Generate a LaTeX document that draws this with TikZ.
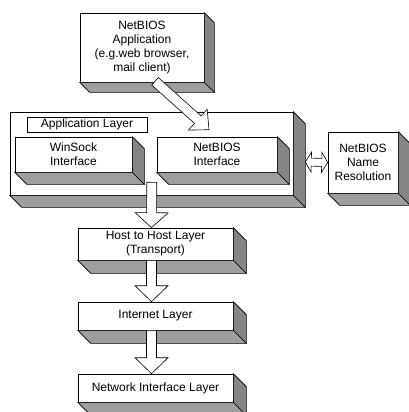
\documentclass[tikz,border=0pt]{standalone}
\usepackage{fontspec}
\setmainfont{Liberation Sans}
\usepackage{xcolor}
\usepackage{tikz}
\usetikzlibrary{calc}

\definecolor{slabbottom}{gray}{0.62}
\definecolor{slabside}{gray}{0.52}

\tikzset{
  slab/.style={draw=black, fill=white, line width=0.6pt, align=center, inner sep=1pt, minimum width=155pt},
  hollow/.style={draw=black, fill=white, line width=0.6pt, line join=miter},
}

% 3d depth of a slab: #1 node, #2 depth
\newcommand{\extrude}[2]{%
  \filldraw[fill=slabbottom, line width=0.6pt] (#1.south west) -- (#1.south east) -- ++(#2,#2) -- ($(#1.south west)+(#2,#2)$) -- cycle;
  \filldraw[fill=slabside, line width=0.6pt] (#1.north east) -- ++(#2,#2) -- ($(#1.south east)+(#2,#2)$) -- (#1.south east) -- cycle;
}

% hollow arrow: shaft half width, head half width, head length, from, to
\newcommand{\blockarrow}[5]{%
  \path (#4) coordinate (ba-s) (#5) coordinate (ba-e);
  \path ($(ba-e)!#3!(ba-s)$) coordinate (ba-h);
  \draw[hollow] ($(ba-s)!#1!90:(ba-e)$) -- ($(ba-h)!#1!-90:(ba-s)$) -- ($(ba-h)!#2!-90:(ba-s)$)
    -- (ba-e) -- ($(ba-h)!#2!90:(ba-s)$) -- ($(ba-h)!#1!90:(ba-s)$) -- ($(ba-s)!#1!-90:(ba-e)$) -- cycle;
}

% hollow arrow with two heads
\newcommand{\dblockarrow}[5]{%
  \path (#4) coordinate (ba-s) (#5) coordinate (ba-e);
  \path ($(ba-s)!#3!(ba-e)$) coordinate (ba-p) ($(ba-e)!#3!(ba-s)$) coordinate (ba-q);
  \draw[hollow] (ba-s) -- ($(ba-p)!#2!90:(ba-e)$) -- ($(ba-p)!#1!90:(ba-e)$) -- ($(ba-q)!#1!-90:(ba-s)$)
    -- ($(ba-q)!#2!-90:(ba-s)$) -- (ba-e) -- ($(ba-q)!#2!90:(ba-s)$) -- ($(ba-q)!#1!90:(ba-s)$)
    -- ($(ba-p)!#1!-90:(ba-e)$) -- ($(ba-p)!#2!-90:(ba-e)$) -- cycle;
}

\begin{document}
\begin{tikzpicture}[x=1pt, y=-1pt, node distance=72pt, font=\fontsize{12}{14}\selectfont]
    \useasboundingbox (0,0) rectangle (409,412);

    \node[slab, minimum width=124pt, minimum height=69pt, name=app] at (142,47.5)
        {NetBIOS\\Application\\(e.g.web browser,\\mail client)};
    \extrude{app}{10}

    \node[slab, minimum width=283pt, minimum height=83pt, name=applayer] at (151.5,153.5) {};
    \extrude{applayer}{12}
    \node[draw, line width=0.6pt, minimum width=120pt, minimum height=15pt, inner sep=0pt, name=applabel] at (87,124.5) {Application Layer};
    \node[slab, minimum width=117pt, minimum height=35pt, name=winsock] at (73.5,154.5) {WinSock\\Interface};
    \extrude{winsock}{12}
    \node[slab, minimum width=120pt, minimum height=35pt, name=nbiface] at (217,154.5) {NetBIOS\\Interface};
    \extrude{nbiface}{12}

    \node[slab, minimum width=70pt, minimum height=61pt, name=nbname] at (363,162.5) {NetBIOS\\Name\\Resolution};
    \extrude{nbname}{12}

    \node[slab, minimum height=32pt, name=host] at (155.5,244) {Host to Host Layer\\(Transport)};
    \extrude{host}{13}
    \node[slab, minimum height=28pt, name=inet, below of=host] {Internet Layer};
    \extrude{inet}{13}
    \node[slab, minimum height=28pt, name=netif, below of=inet] {Network Interface Layer};
    \extrude{netif}{13}

    \blockarrow{5pt}{14pt}{15pt}{$(app.south)+(13,-1)$}{$(nbiface.north)+(-8,-7)$}
    \blockarrow{5pt}{16.5pt}{15pt}{$(winsock.south east)+(19.5,10)$}{$(host.north)+(-4,0)$}
    \blockarrow{5pt}{16.5pt}{16pt}{$(host.south)+(-4,0)$}{$(inet.north)+(-4,0)$}
    \blockarrow{5pt}{16.5pt}{16pt}{$(inet.south)+(-4,0)$}{$(netif.north)+(-4,0)$}
    \dblockarrow{4pt}{10pt}{6pt}{$(applayer.east)+(12,8.5)$}{nbname.west}
\end{tikzpicture}
\end{document}
